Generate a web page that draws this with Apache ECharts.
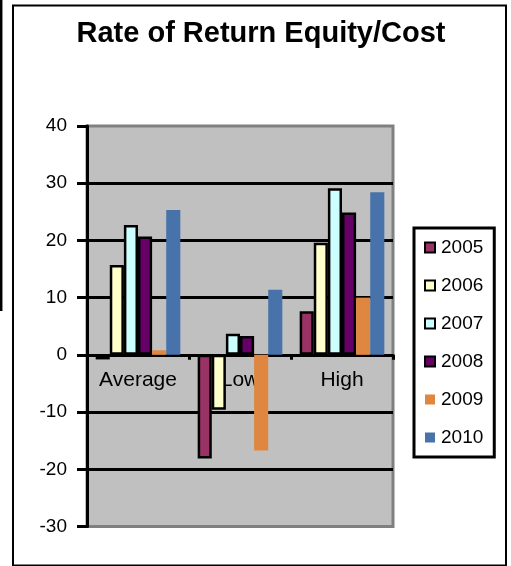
<!DOCTYPE html>
<html>
<head>
<meta charset="utf-8">
<script src="https://cdn.jsdelivr.net/npm/echarts@6/dist/echarts.min.js"></script>
<style>html,body{margin:0;padding:0;background:#fff;}#c{width:511px;height:566px;}</style>
</head>
<body>
<div id="c"></div>
<script>
const categories = ['Average', 'Low', 'High'];
const seriesNames = ['2005', '2006', '2007', '2008', '2009', '2010'];
const v2005 = [-0.8, -18.1, 7.6];
const v2006 = [15.7, -9.6, 19.6];
const v2007 = [22.7, 3.7, 29.1];
const v2008 = [20.7, 3.3, 24.9];
const v2009 = [0.8, -16.7, 10.0];
const v2010 = [25.3, 11.4, 28.4];
const yTicks = [-30, -20, -10, 0, 10, 20, 30, 40];

const values = [v2005, v2006, v2007, v2008, v2009, v2010];
const colors = ['#993366', '#FFFFCC', '#CCFFFF', '#660066', '#DF8740', '#4872AA'];
const bordered = [true, true, true, true, false, false];

const chart = echarts.init(document.getElementById('c'), null, {renderer: 'canvas'});
const FONT = 'Liberation Sans, Arial, sans-serif';

const series = seriesNames.map((n, i) => ({
  name: n,
  type: 'bar',
  data: values[i],
  barGap: '0%',
  barCategoryGap: '17%',
  itemStyle: {
    color: colors[i],
    borderColor: bordered[i] ? '#000' : colors[i],
    borderWidth: bordered[i] ? 2.5 : 0
  }
}));

const splitColors = yTicks.map((t, i) => (i === 0 || i === yTicks.length - 1) ? 'rgba(0,0,0,0)' : '#000');

// grid geometry
const gridTop = 126, gridBottom = 39.5, chartH = 566;
const plotH = chartH - gridTop - gridBottom;
const yMin = yTicks[0], yMax = yTicks[yTicks.length - 1];
const zeroOffset = -plotH * (0 - yMin) / (yMax - yMin);

chart.setOption({
  animation: false,
  backgroundColor: '#fff',
  title: {
    text: 'Rate of Return Equity/Cost',
    left: 261,
    top: 19,
    padding: 0,
    textAlign: 'center',
    textStyle: {fontFamily: FONT, fontSize: 29, fontWeight: 'bold', color: '#000'}
  },
  legend: {
    orient: 'vertical',
    left: 414,
    top: 228,
    padding: [10, 11, 10, 10],
    itemGap: 19,
    itemWidth: 10,
    itemHeight: 10,
    icon: 'rect',
    borderColor: '#000',
    borderWidth: 3,
    backgroundColor: '#fff',
    textStyle: {fontFamily: FONT, fontSize: 19, color: '#000', padding: [0, 0, 0, 1]},
    data: seriesNames
  },
  grid: {
    left: 87, right: 118, top: gridTop, bottom: gridBottom,
    show: true,
    backgroundColor: '#C0C0C0',
    borderColor: '#808080',
    borderWidth: 3
  },
  xAxis: {
    type: 'category',
    data: categories,
    position: 'bottom',
    offset: zeroOffset,
    axisLine: {show: true, onZero: false, lineStyle: {color: '#000', width: 3}},
    axisTick: {show: true, length: 5, inside: false, lineStyle: {color: '#000', width: 3}},
    axisLabel: {fontFamily: FONT, fontSize: 21, color: '#000', margin: 15},
    splitLine: {show: false}
  },
  yAxis: {
    type: 'value',
    min: yMin, max: yMax, interval: 10,
    axisLine: {show: true, onZero: false, lineStyle: {color: '#000', width: 3}},
    axisTick: {show: true, length: 10, lineStyle: {color: '#000', width: 3}},
    axisLabel: {fontFamily: FONT, fontSize: 19, color: '#000', margin: 20},
    splitLine: {show: true, lineStyle: {color: splitColors, width: 3}}
  },
  graphic: [
    {type: 'rect', shape: {x: 13, y: 5.5, width: 493, height: 560}, style: {fill: 'none', stroke: '#000', lineWidth: 2}, silent: true},
    {type: 'line', shape: {x1: 1.2, y1: 0, x2: 1.2, y2: 311}, style: {stroke: '#000', lineWidth: 2.5}, silent: true}
  ],
  series: series
});
</script>
</body>
</html>
